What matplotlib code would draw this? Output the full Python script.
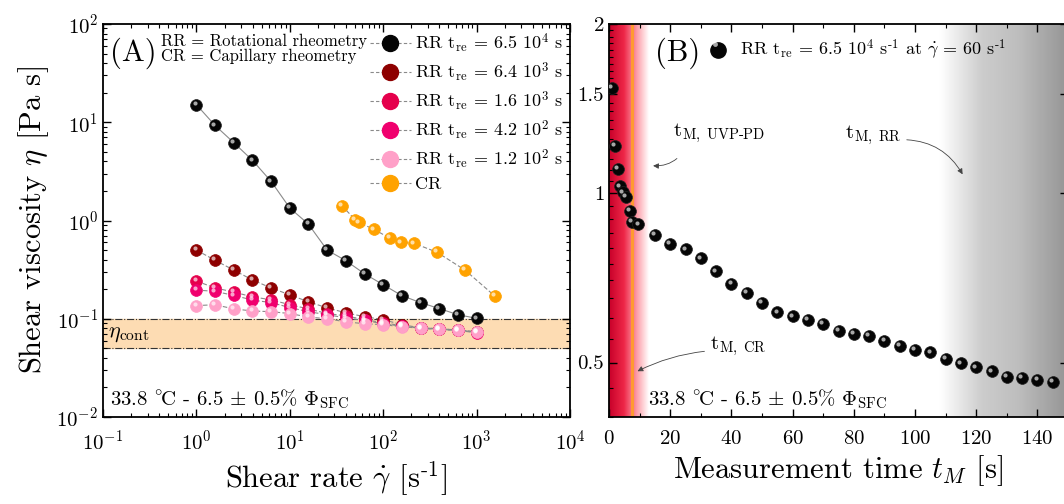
import matplotlib
matplotlib.use('Agg')
import matplotlib.pyplot as plt
import numpy as np
from matplotlib.lines import Line2D
from matplotlib.transforms import offset_copy
import matplotlib.ticker as mticker

plt.rcParams['font.family'] = ['cmr10', 'DejaVu Serif']
plt.rcParams['mathtext.fontset'] = 'cm'
plt.rcParams['axes.formatter.use_mathtext'] = True
plt.rcParams['axes.unicode_minus'] = False

# ---- panel A data: shear rate [1/s] vs viscosity [Pa s]
rate_rr = [1, 1.58, 2.51, 3.98, 6.31, 10, 15.8, 25.1, 39.8, 63.1, 100, 158, 251, 398, 631, 1000]
eta_65e4 = [15.1, 9.3, 6.2, 4.1, 2.5, 1.34, 0.92, 0.50, 0.39, 0.287, 0.222, 0.172, 0.146, 0.127, 0.110, 0.101]
eta_64e3 = [0.50, 0.394, 0.313, 0.248, 0.206, 0.175, 0.149, 0.129, 0.115, 0.105, 0.098, 0.087, 0.081, 0.079, 0.077, 0.074]
eta_16e3 = [0.242, 0.206, 0.187, 0.167, 0.156, 0.139, 0.126, 0.113, 0.107, 0.098, 0.091, 0.085, 0.081, 0.079, 0.077, 0.073]
eta_42e2 = [0.196, 0.190, 0.173, 0.155, 0.146, 0.130, 0.118, 0.110, 0.102, 0.096, 0.089, 0.084, 0.080, 0.078, 0.076, 0.072]
eta_12e2 = [0.136, 0.139, 0.126, 0.120, 0.118, 0.113, 0.104, 0.100, 0.093, 0.089, 0.087, 0.083, 0.080, 0.078, 0.076, 0.073]
rate_cr = [36, 50, 55, 80, 118, 155, 214, 377, 750, 1570]
eta_cr = [1.42, 1.02, 0.955, 0.81, 0.66, 0.60, 0.586, 0.475, 0.313, 0.17]
eta_cont = (0.05, 0.1)

# ---- panel B data: measurement time [s] vs viscosity [Pa s]
t_meas = [1, 2, 3, 3.6, 4.6, 5.6, 6.9, 7.6, 9.6,
          15, 20, 25, 30, 35, 40, 45, 50, 55, 60, 65, 70, 75, 80, 85, 90,
          95, 100, 105, 110, 115, 120, 125, 130, 135, 140, 145]
eta_t = [1.54, 1.213, 1.104, 1.029, 1.004, 0.984, 0.929, 0.888, 0.880,
         0.842, 0.814, 0.795, 0.766, 0.726, 0.691, 0.664, 0.639, 0.614, 0.604, 0.596,
         0.586, 0.570, 0.563, 0.558, 0.547, 0.536, 0.527, 0.521, 0.508, 0.498,
         0.490, 0.482, 0.472, 0.470, 0.466, 0.462]

series = [
    (rate_rr, eta_65e4, '#050505', r'RR t$_{\rm re}$ = 6.5 10$^{4}$ s'),
    (rate_rr, eta_64e3, '#8e0000', r'RR t$_{\rm re}$ = 6.4 10$^{3}$ s'),
    (rate_rr, eta_16e3, '#e5004c', r'RR t$_{\rm re}$ = 1.6 10$^{3}$ s'),
    (rate_rr, eta_42e2, '#f0006e', r'RR t$_{\rm re}$ = 4.2 10$^{2}$ s'),
    (rate_rr, eta_12e2, '#ffa0c8', r'RR t$_{\rm re}$ = 1.2 10$^{2}$ s'),
    (rate_cr, eta_cr, '#ffa200', 'CR'),
]

cond_txt = r'33.8 $\mathrm{^{\circ}\!C}$ - 6.5 $\pm$ 0.5% $\Phi_{\rm SFC}$'

fig = plt.figure(figsize=(10.64, 5.04), dpi=100)
ax1 = fig.add_axes([103/1064, 87/504, 467/1064, 393/504])
ax2 = fig.add_axes([609/1064, 87/504, 459/1064, 393/504])


def ball(ax, x, y, color, ms, line=True, ls=(0, (4, 2))):
    if line:
        ax.plot(x, y, ls=ls, color='#8a8a8a', lw=0.8, zorder=2)
    ax.plot(x, y, 'o', ms=ms, color=color, mec='#222222' if color == '#050505' else color,
            mew=0.5, zorder=3)
    tr = offset_copy(ax.transData, fig=fig, x=-ms*0.15, y=ms*0.15, units='points')
    ax.plot(x, y, 'o', ms=ms*0.35, color='white', alpha=0.65, mec='none',
            transform=tr, zorder=4)


# ----------------- panel A
ax1.set_xscale('log')
ax1.set_yscale('log')
ax1.set_xlim(0.1, 1e4)
ax1.set_ylim(1e-2, 1e2)
ax1.axhspan(eta_cont[0], eta_cont[1], color='#fddcb3', zorder=0)
for v in eta_cont:
    ax1.axhline(v, color='#333333', ls='-.', lw=0.8, zorder=1)

handles = []
for x, y, c, lab in series:
    ball(ax1, x, y, c, 8.5, ls='-' if c == '#050505' else (0, (4, 2)))
    handles.append(Line2D([], [], ls=(0, (3, 2)), color='#8a8a8a', lw=0.8,
                          marker='o', ms=11.5, mfc=c, mec=c, label=lab))

ax1.legend(handles=handles, loc='upper right', frameon=False, fontsize=13,
           handlelength=2.3, handletextpad=0.2, labelspacing=0.3,
           borderaxespad=0.2, borderpad=0.2)

ax1.text(0.015, 0.965, '(A)', transform=ax1.transAxes, fontsize=22, va='top')
ax1.text(0.125, 0.975, 'RR = Rotational rheometry\nCR = Capillary rheometry',
         transform=ax1.transAxes, fontsize=12, va='top', linespacing=1.0)
ax1.text(0.01, 0.07, r'$\mathrm{\eta}_{\rm cont}$', fontsize=16, va='center',
         transform=ax1.get_yaxis_transform())
ax1.text(0.015, 0.015, cond_txt, transform=ax1.transAxes, fontsize=15, va='bottom')

ax1.set_xlabel(r'Shear rate $\dot{\gamma}$ [s$^{\text{-1}}$]', fontsize=22)
ax1.set_ylabel(r'Shear viscosity $\eta$ [Pa s]', fontsize=22)
ax1.xaxis.set_major_locator(mticker.LogLocator(base=10, numticks=10))
ax1.yaxis.set_major_locator(mticker.LogLocator(base=10, numticks=10))
ax1.xaxis.set_minor_locator(mticker.LogLocator(base=10, subs=np.arange(2, 10), numticks=20))
ax1.yaxis.set_minor_locator(mticker.LogLocator(base=10, subs=np.arange(2, 10), numticks=20))
ax1.xaxis.set_minor_formatter(mticker.NullFormatter())
ax1.yaxis.set_minor_formatter(mticker.NullFormatter())
ax1.tick_params(which='both', direction='in', top=True, right=True, labelsize=15)
ax1.tick_params(which='major', length=6, width=1)
ax1.tick_params(which='minor', length=3, width=0.8)
ax1.tick_params(axis='x', pad=9)
ax1.xaxis.labelpad = 4
for sp in ax1.spines.values():
    sp.set_linewidth(1.3)

# ----------------- panel B
ax2.set_yscale('log')
ax2.set_xlim(0, 150)
ax2.set_ylim(0.40, 2)

# background shading: red near t=0, grey at long times
tt = np.linspace(0, 150, 451)
red = np.array([[0.0, 0.78, 0.0, 0.16], [5.0, 0.93, 0.15, 0.28],
                [9.0, 0.99, 0.62, 0.66], [13.0, 1.0, 1.0, 1.0]])
grey = np.array([[108.0, 1.0], [122.0, 0.80], [134.0, 0.74], [150.0, 0.58]])
for i in range(len(tt) - 1):
    tm = 0.5*(tt[i] + tt[i+1])
    if tm <= 13:
        col = [np.interp(tm, red[:, 0], red[:, k]) for k in (1, 2, 3)]
    elif tm >= 108:
        g = np.interp(tm, grey[:, 0], grey[:, 1])
        col = [g, g, g]
    else:
        continue
    ax2.axvspan(tt[i], tt[i+1], color=col, lw=0, zorder=0)
ax2.axvline(7.5, color='#ff9a30', lw=2.2, zorder=1)

ball(ax2, t_meas, eta_t, '#050505', 8.5, line=False)

ax2.text(0.10, 0.965, '(B)', transform=ax2.transAxes, fontsize=22, va='top')
ax2.plot([0.238], [0.935], 'o', ms=11, color='#050505', transform=ax2.transAxes, clip_on=False)
ax2.plot([0.232], [0.948], 'o', ms=3.5, color='white', alpha=0.65, mec='none',
         transform=ax2.transAxes)
ax2.text(0.285, 0.935,
         r'RR t$_{\rm re}$ = 6.5 10$^{4}$ s$^{\text{-1}}$ at $\dot{\gamma}$ = 60 s$^{\text{-1}}$',
         transform=ax2.transAxes, fontsize=13, va='center')
ax2.text(0.085, 0.015, cond_txt, transform=ax2.transAxes, fontsize=15, va='bottom')

ax2.annotate(r't$_{\rm M,\ UVP\text{-}PD}$', xy=(13.5, 1.12), xytext=(21, 1.28),
             fontsize=15, ha='left', va='center',
             arrowprops=dict(arrowstyle='-|>', color='#444444', lw=0.6,
                             connectionstyle='arc3,rad=-0.35', shrinkA=10,
                             mutation_scale=8, relpos=(0.15, 0.0)))
ax2.annotate(r't$_{\rm M,\ RR}$', xy=(116, 1.07), xytext=(77, 1.27),
             fontsize=15, ha='left', va='center',
             arrowprops=dict(arrowstyle='-|>', color='#444444', lw=0.6,
                             connectionstyle='arc3,rad=-0.3', shrinkA=2,
                             mutation_scale=8, relpos=(1.0, 0.3)))
ax2.annotate(r't$_{\rm M,\ CR}$', xy=(8.5, 0.48), xytext=(33, 0.535),
             fontsize=15, ha='left', va='center',
             arrowprops=dict(arrowstyle='-|>', color='#444444', lw=0.6,
                             connectionstyle='arc3,rad=0.1', shrinkA=2,
                             mutation_scale=8, relpos=(0.0, 0.3)))

ax2.set_xlabel(r'Measurement time $t_M$ [s]', fontsize=22)
ax2.xaxis.labelpad = 4
ax2.xaxis.set_major_locator(mticker.MultipleLocator(20))
ax2.xaxis.set_minor_locator(mticker.MultipleLocator(10))
ax2.yaxis.set_major_locator(mticker.FixedLocator([0.5, 1, 1.5, 2]))
ax2.yaxis.set_major_formatter(mticker.FixedFormatter(['0.5', '1', '1.5', '2']))
ax2.yaxis.set_minor_locator(mticker.FixedLocator(np.arange(0.4, 2.0, 0.05)))
ax2.yaxis.set_minor_formatter(mticker.NullFormatter())
ax2.tick_params(which='both', direction='in', top=True, right=True, labelsize=15)
ax2.tick_params(which='major', length=6, width=1)
ax2.tick_params(which='minor', length=3, width=0.8)
ax2.tick_params(axis='x', pad=9)
for sp in ax2.spines.values():
    sp.set_linewidth(1.3)

fig.savefig('out.png', dpi=100)
